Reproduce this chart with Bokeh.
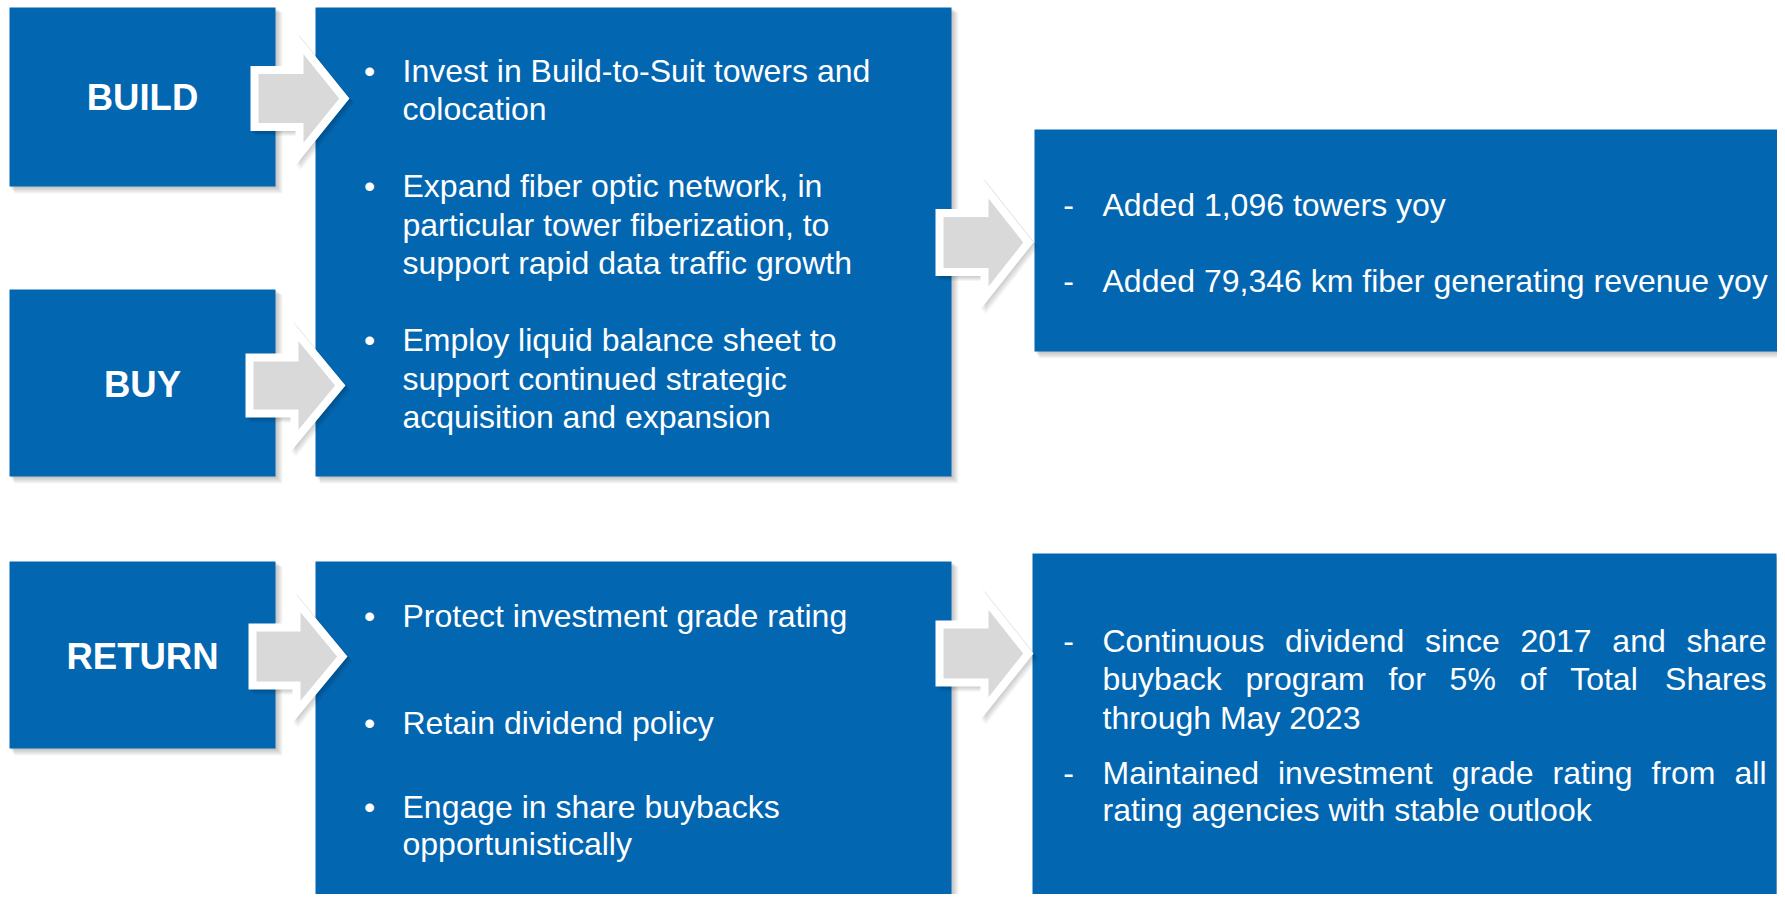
from bokeh.plotting import figure
from bokeh.models import Range1d
from bokeh.core.properties import value
from bokeh.embed import file_html
from bokeh.resources import INLINE

# ---------------- data (texts) ----------------
STAGES = ["BUILD", "BUY", "RETURN"]

GROWTH_ACTIONS = [
    ["Invest in Build-to-Suit towers and", "colocation"],
    ["Expand fiber optic network, in", "particular tower fiberization, to",
     "support rapid data traffic growth"],
    ["Employ liquid balance sheet to", "support continued strategic",
     "acquisition and expansion"],
]
GROWTH_RESULTS = [
    ["Added 1,096 towers yoy"],
    ["Added 79,346 km fiber generating revenue yoy"],
]
RETURN_ACTIONS = [
    ["Protect investment grade rating"],
    ["Retain dividend policy"],
    ["Engage in share buybacks", "opportunistically"],
]
RETURN_RESULTS = [
    ["Continuous dividend since 2017 and share",
     "buyback program for 5% of Total Shares", "through May 2023"],
    ["Maintained investment grade rating from all",
     "rating agencies with stable outlook"],
]

# ---------------- layout / style ----------------
BLUE = "#0366B1"
GREY = "#D9D9D9"
FONT = "Liberation Sans"
FS = 32.0          # body font size px
FS_B = 36.5        # stage label size px
PW, PH = 1777, 894

stage_boxes = [(9, 275, 7, 186), (9, 275, 289, 476), (9, 275, 561, 748)]
stage_cy = [96.5, 383.5, 655.5]
action_boxes = [(315, 951, 7, 476), (315, 951, 561, 912)]
result_boxes = [(1034, 1779, 129, 351), (1032, 1776, 553, 894)]
# arrows: shaft left, head base, tip, centre y, shaft half-height, head half-height
arrows = [
    (250, 295, 349, 98, 32.5, 67),
    (245, 290, 345, 385, 32, 66.5),
    (248, 292, 347, 656, 33, 66.5),
    (935, 980, 1033, 242, 33.5, 67),
    (935, 980, 1033, 653, 33, 66.5),
]
growth_action_y = [[70, 108.5], [185.5, 224, 262.5], [339.5, 378, 416.5]]
growth_result_y = [[204], [280]]
return_action_y = [[615], [722], [806, 843]]
return_result_y = [[640, 678, 717], [772, 809]]
BULLET_X, ACTION_X = 369, 402
DASH_X, RESULT_X, RESULT_R = 1068, 1102, 1766

# Arial / Liberation Sans advance widths (1/1000 em)
W = {' ': 278, '%': 889, ',': 278, '.': 278, '-': 333}
W.update({d: 556 for d in "0123456789"})
W.update(dict(a=556, b=556, c=500, d=556, e=556, f=278, g=556, h=556, i=222, j=222,
              k=500, l=222, m=833, n=556, o=556, p=556, q=556, r=333, s=500, t=278,
              u=556, v=500, w=722, x=500, y=500, z=500))
W.update(dict(A=667, B=667, C=722, D=722, E=667, M=833, S=667, T=611, R=722))


def tw(s, size=FS):
    return sum(W.get(ch, 556) for ch in s) * size / 1000.0


def inset_polygon(xs, ys, d):
    n = len(xs)
    area = sum(xs[i] * ys[(i + 1) % n] - xs[(i + 1) % n] * ys[i] for i in range(n))
    sgn = 1 if area > 0 else -1
    lines = []
    for i in range(n):
        x0, y0, x1, y1 = xs[i], ys[i], xs[(i + 1) % n], ys[(i + 1) % n]
        dx, dy = x1 - x0, y1 - y0
        L = (dx * dx + dy * dy) ** 0.5
        nx, ny = -dy / L * sgn, dx / L * sgn
        lines.append((x0 + nx * d, y0 + ny * d, dx, dy))
    ox, oy = [], []
    for i in range(n):
        ax, ay, adx, ady = lines[i - 1]
        bx, by, bdx, bdy = lines[i]
        den = adx * bdy - ady * bdx
        t = ((bx - ax) * bdy - (by - ay) * bdx) / den
        ox.append(ax + adx * t)
        oy.append(ay + ady * t)
    return ox, oy


p = figure(width=PW, height=PH, output_backend="svg", toolbar_location=None,
           x_range=Range1d(0, PW), y_range=Range1d(PH, 0), min_border=0)
p.axis.visible = False
p.grid.visible = False
p.outline_line_color = None
p.background_fill_color = "white"
p.border_fill_color = "white"

all_boxes = stage_boxes + action_boxes + result_boxes
# soft shadows
for k in range(1, 8):
    p.quad(left=[b[0] + k * 0.7 for b in all_boxes], right=[b[1] + k for b in all_boxes],
           top=[b[2] + k * 0.7 for b in all_boxes], bottom=[b[3] + k for b in all_boxes],
           fill_color="black", fill_alpha=0.035, line_color=None)
p.quad(left=[b[0] for b in all_boxes], right=[b[1] for b in all_boxes],
       top=[b[2] for b in all_boxes], bottom=[b[3] for b in all_boxes],
       fill_color=BLUE, line_color=None)

# arrows
outer_xs, outer_ys, inner_xs, inner_ys = [], [], [], []
for (xl, xb, xt, cy, sh, hh) in arrows:
    xs = [xl, xb, xb, xt, xb, xb, xl]
    ys = [cy - sh, cy - sh, cy - hh, cy, cy + hh, cy + sh, cy + sh]
    outer_xs.append(xs)
    outer_ys.append(ys)
    ix, iy = inset_polygon(xs, ys, 8)
    inner_xs.append(ix)
    inner_ys.append(iy)
for k in range(1, 6):
    p.patches([[x + k for x in xs] for xs in outer_xs], [[y + k for y in ys] for ys in outer_ys],
              fill_color="black", fill_alpha=0.04, line_color=None)
p.patches(outer_xs, outer_ys, fill_color="white", line_color=None)
p.patches(inner_xs, inner_ys, fill_color=GREY, line_color=None)

# stage labels
p.text(x=[(b[0] + b[1]) / 2 for b in stage_boxes], y=stage_cy,
       text=STAGES, text_align="center", text_baseline="middle",
       text_font=value(FONT), text_font_size=value(f"{FS_B}px"), text_font_style="bold",
       text_color="white")

# body texts
tx, ty, tt = [], [], []
mx, my, mt = [], [], []


def add_lines(groups, ys, marker, mxpos, xpos, justify=False):
    for lines, yl in zip(groups, ys):
        mx.append(mxpos)
        my.append(yl[0])
        mt.append(marker)
        for j, (line, yy) in enumerate(zip(lines, yl)):
            if justify and j < len(lines) - 1:
                words = line.split(" ")
                total = sum(tw(w) for w in words)
                gap = (RESULT_R - xpos - total) / (len(words) - 1)
                x = xpos
                for w in words:
                    tx.append(x); ty.append(yy); tt.append(w)
                    x += tw(w) + gap
            else:
                tx.append(xpos); ty.append(yy); tt.append(line)


add_lines(GROWTH_ACTIONS, growth_action_y, "\u2022", BULLET_X, ACTION_X)
add_lines(RETURN_ACTIONS, return_action_y, "\u2022", BULLET_X, ACTION_X)
add_lines(GROWTH_RESULTS, growth_result_y, "-", DASH_X, RESULT_X)
add_lines(RETURN_RESULTS, return_result_y, "-", DASH_X, RESULT_X, justify=True)

p.text(x=tx, y=ty, text=tt, text_align="left", text_baseline="middle",
       text_font=value(FONT), text_font_size=value(f"{FS}px"), text_color="white")
p.text(x=mx, y=my, text=mt, text_align="center", text_baseline="middle",
       text_font=value(FONT), text_font_size=value(f"{FS}px"), text_color="white")

open("out.html", "w").write(file_html(p, INLINE))
